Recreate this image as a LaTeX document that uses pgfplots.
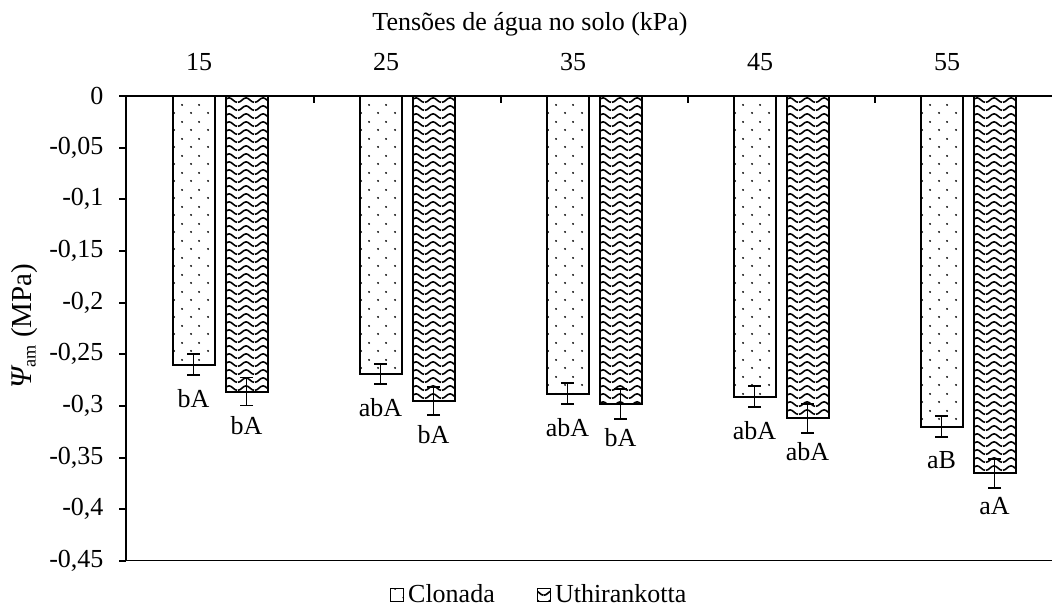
\documentclass[border=0pt]{standalone}
\usepackage{fontspec}
\setmainfont{Liberation Serif}
\usepackage{pgfplots}
\usepackage{pgfplotstable}
\pgfplotsset{compat=1.18}
\usetikzlibrary{patterns.meta}

% staggered dots (Clonada)
\tikzdeclarepattern{
  name=sdots, type=uncolored,
  bounding box={(0pt,0pt) and (8.5pt,8.5pt)},
  tile size={(8.5pt,8.5pt)},
  code={
    \fill (2.125pt,2.125pt) circle (0.55pt);
    \fill (6.375pt,6.375pt) circle (0.55pt);
  }
}
% wave (Uthirankotta)
\tikzdeclarepattern{
  name=wave, type=uncolored,
  bounding box={(0pt,-2.1pt) and (8.5pt,2.1pt)},
  tile size={(8.5pt,4.2pt)},
  code={
    \draw[line width=0.85pt, line join=round]
      (0pt,-1.2pt) cos (2.125pt,0pt) sin (4.25pt,1.2pt) cos (6.375pt,0pt) sin (8.5pt,-1.2pt);
  }
}

\pgfplotstableread{
x y e lab
1 -0.260 0.0100 bA
2 -0.269 0.0100 abA
3 -0.288 0.0100 abA
4 -0.291 0.0100 abA
5 -0.320 0.0100 aB
}\clonada
\pgfplotstableread{
x y e lab
1 -0.286 0.0135 bA
2 -0.295 0.0135 bA
3 -0.298 0.0145 bA
4 -0.312 0.0140 abA
5 -0.365 0.0140 aA
}\uthi

\begin{document}
\begin{tikzpicture}[font=\fontsize{13}{15.6}\selectfont]
\begin{axis}[
  name=ax,
  scale only axis,
  width=462.75pt, height=232.5pt,
  xmin=0.5, xmax=5.449,
  ymin=-0.45, ymax=0,
  axis y line=left, axis x line=top,
  axis line style={-, line width=1pt},
  tick align=outside,
  major tick length=3.5pt,
  tick style={line width=1pt, black},
  every major x tick/.append style={draw=none},
  xtick={1,2,3,4,5},
  xticklabels={15,25,35,45,55},
  xticklabel style={xshift=-10.5pt, yshift=5.5pt},
  ytick={0,-0.05,-0.1,-0.15,-0.2,-0.25,-0.3,-0.35,-0.4,-0.45},
  yticklabels={0,{-0,05},{-0,1},{-0,15},{-0,2},{-0,25},{-0,3},{-0,35},{-0,4},{-0,45}},
  yticklabel style={xshift=-4.5pt},
  xlabel={Tensões de água no solo (kPa)},
  xlabel style={at={(axis description cs:0.436,1)}, anchor=center, yshift=36pt},
  ylabel={{\fontsize{15}{18}\selectfont\itshape Ψ}\textsubscript{am} {\fontsize{14.5}{17}\selectfont(MPa)}},
  ylabel style={at={(axis description cs:-0.1097,0.505)}, anchor=center},
  ybar,
  bar width=0.2246,
  point meta=explicit symbolic,
  nodes near coords,
  every node near coord/.append style={anchor=north, inner sep=0pt, yshift=-11.75pt},
  legend columns=2,
  legend style={at={(axis description cs:0.447,-0.073)}, anchor=center, draw=none,
    fill=none, /tikz/every even column/.append style={column sep=19pt}},
  legend image code/.code={\draw[#1, line width=0.6pt] (0pt,-3.25pt) rectangle (6.5pt,3.25pt);},
]
\addplot[draw=black, line width=1pt, pattern={sdots}, bar shift=-0.1417,
  error bars/.cd, y dir=both, y explicit,
  error bar style={line width=0.9pt, black},
  error mark options={rotate=90, mark size=3.25pt, line width=0.9pt, black}]
  table[x=x, y=y, y error=e, meta=lab] {\clonada};
\addplot[draw=black, line width=1pt, pattern={wave}, bar shift=0.1417,
  error bars/.cd, y dir=both, y explicit,
  error bar style={line width=0.9pt, black},
  error mark options={rotate=90, mark size=3.25pt, line width=0.9pt, black}]
  table[x=x, y=y, y error=e, meta=lab] {\uthi};
\legend{Clonada, Uthirankotta}
\draw[line width=1pt] (rel axis cs:0,0) -- (rel axis cs:1,0);
\pgfplotsinvokeforeach{1.5,2.5,3.5,4.5}{
  \draw[line width=1pt] (axis cs:#1,0) -- ++(0pt,-3.5pt);
}
\end{axis}
\pgfresetboundingbox
\path ([shift={(-63.25pt,-24.5pt)}]ax.south west) rectangle ([shift={(0pt,48pt)}]ax.north east);
\end{tikzpicture}
\end{document}
